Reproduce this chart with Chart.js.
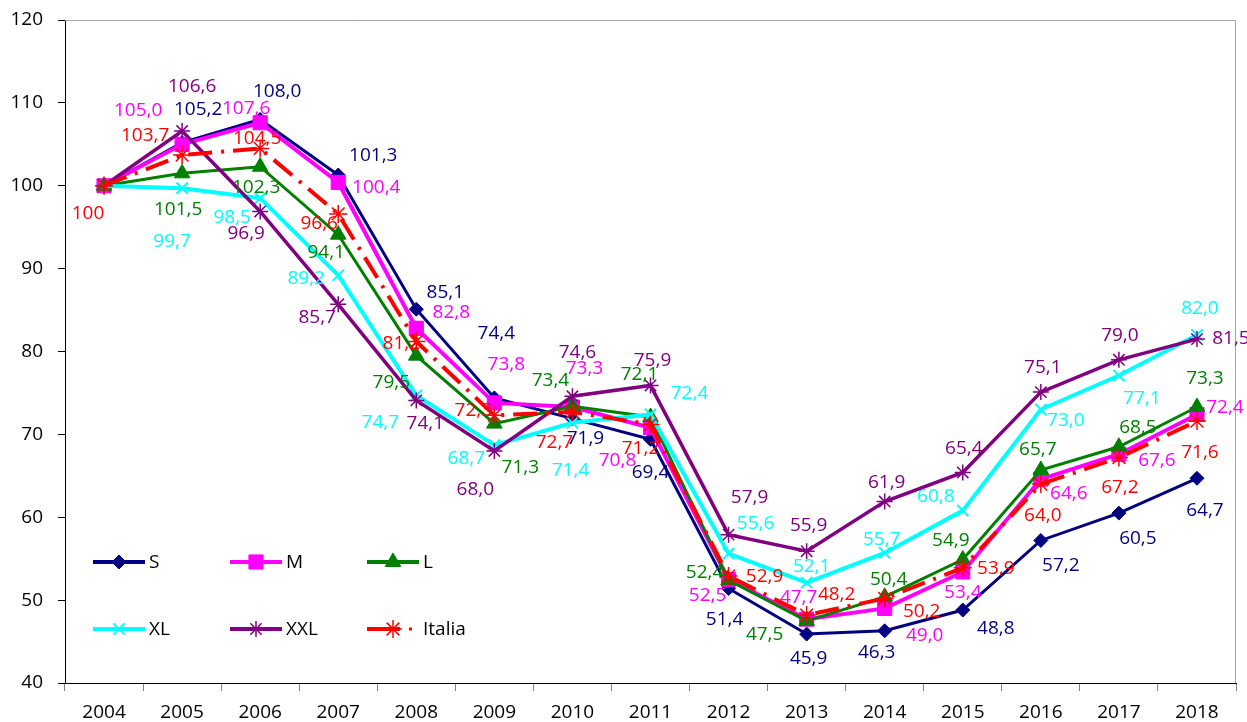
<!DOCTYPE html>
<html>
<head>
<meta charset="utf-8">
<script src="https://cdn.jsdelivr.net/npm/chart.js@4.4.1/dist/chart.umd.min.js"></script>
<style>
html,body{margin:0;padding:0;background:#fff;}
#wrap{width:1247px;height:722px;position:relative;}
</style>
</head>
<body>
<div id="wrap"><canvas id="c" width="1247" height="722"></canvas></div>
<script>
// ---- data ----
const years = ['2004','2005','2006','2007','2008','2009','2010','2011','2012','2013','2014','2015','2016','2017','2018'];
const seriesNames = ['S','M','L','XL','XXL','Italia'];
const valS   = [100,105.2,108.0,101.3,85.1,74.4,71.9,69.4,51.4,45.9,46.3,48.8,57.2,60.5,64.7];
const valM   = [100,105.0,107.6,100.4,82.8,73.8,73.3,70.8,52.5,47.7,49.0,53.4,64.6,67.6,72.4];
const valL   = [100,101.5,102.3,94.1,79.5,71.3,73.4,72.1,52.4,47.5,50.4,54.9,65.7,68.5,73.3];
const valXL  = [100,99.7,98.5,89.2,74.7,68.7,71.4,72.4,55.6,52.1,55.7,60.8,73.0,77.1,82.0];
const valXXL = [100,106.6,96.9,85.7,74.1,68.0,74.6,75.9,57.9,55.9,61.9,65.4,75.1,79.0,81.5];
const valIta = [100,103.7,104.5,96.6,81.2,72.3,72.7,71.2,52.9,48.2,50.2,53.9,64.0,67.2,71.6];
const yTicks = [40,50,60,70,80,90,100,110,120];

// ---- label placement (offsets from the point, in px) ----
const offS   = [null,[16,-34],[17,-29],[35,-20],[29,-18],[2,-65],[13,19],[0,32],[-4,30],[2,23],[-8,21],[33,18],[20,24],[19,24],[8,31]];
const offM   = [null,[-44,-35],[-14,-15],[38,4],[35,-17],[12,-39],[12,-39],[-33,32],[-21,15],[-8,-23],[40,26],[0,20],[28,13],[38,5],[28,-8]];
const offL   = [null,[-4,35],[-4,20],[-12,17],[-25,26],[26,43],[-22,-27],[-11,-43],[-24,-9],[-42,13],[4,-18],[-12,-20],[-3,-21],[19,-20],[8,-29]];
const offXL  = [null,[-10,52],[-28,18],[-32,2],[-36,26],[-28,12],[-2,47],[39,-22],[27,-31],[5,-17],[-3,-14],[-27,-15],[25,10],[23,22],[3,-27]];
const offXXL = [null,[10,-45],[-14,21],[-21,12],[9,22],[-19,38],[5,-45],[2,-26],[21,-38],[2,-27],[2,-20],[1,-25],[2,-26],[1,-25],[34,-1]];
const offIta = [[-16,27],[-37,-20],[-3,-11],[-19,9],[-15,1],[-21,-6],[-18,30],[-10,23],[36,0],[30,-21],[37,12],[33,0],[2,30],[1,29],[3,30]];

const FONT = "'Open Sans', 'DejaVu Sans', sans-serif";
Chart.defaults.font.family = FONT;
Chart.defaults.font.size = 19;
Chart.defaults.color = '#000';

function fmt(v, i) {
  if (i === 0) return String(Math.round(v));
  return v.toFixed(1).replace('.', ',');
}

const styles = [
  {color:'#000080', point:'rectRot', radius:7, bw:3, pbw:1, dash:[], order:6, offs:offS, data:valS},
  {color:'#FF00FF', point:'rect', radius:10, bw:4, pbw:1, dash:[], order:5, offs:offM, data:valM},
  {color:'#008000', point:'triangle', radius:9, bw:3, pbw:1, dash:[], order:4, offs:offL, data:valL},
  {color:'#00FFFF', point:'crossRot', radius:8, bw:4, pbw:2, dash:[], order:3, offs:offXL, data:valXL},
  {color:'#800080', point:'star', radius:8, bw:3.5, pbw:1.5, dash:[], order:2, offs:offXXL, data:valXXL},
  {color:'#FF0000', point:'star', radius:9, bw:4, pbw:1.5, dash:[24,9,3,9], order:1, offs:offIta, data:valIta}
];

const datasets = styles.map((s, k) => ({
  label: seriesNames[k],
  data: s.data,
  borderColor: s.color,
  backgroundColor: s.color,
  borderWidth: s.bw,
  borderDash: s.dash,
  pointStyle: s.point,
  pointRadius: s.radius,
  pointBorderWidth: s.pbw,
  pointBackgroundColor: s.color,
  pointBorderColor: s.color,
  tension: 0,
  order: s.order,
  labelOffsets: s.offs,
  labelColor: s.color
}));

const labelPlugin = {
  id: 'valueLabels',
  afterDatasetsDraw(chart) {
    const ctx = chart.ctx;
    ctx.save();
    ctx.font = '19px ' + FONT;
    ctx.textAlign = 'center';
    ctx.textBaseline = 'middle';
    chart.data.datasets.forEach((ds, di) => {
      const meta = chart.getDatasetMeta(di);
      meta.data.forEach((pt, i) => {
        const off = ds.labelOffsets[i];
        if (!off) return;
        ctx.fillStyle = ds.labelColor;
        ctx.fillText(fmt(ds.data[i], i), pt.x + off[0], pt.y + off[1] + 1);
      });
    });
    ctx.restore();
  }
};

const framePlugin = {
  id: 'frame',
  beforeDatasetsDraw(chart) {
    const {ctx, chartArea: a} = chart;
    ctx.save();
    ctx.strokeStyle = '#a6a6a6';
    ctx.lineWidth = 1;
    ctx.beginPath();
    ctx.moveTo(a.left, a.top + 0.5);
    ctx.lineTo(a.right - 0.5, a.top + 0.5);
    ctx.lineTo(a.right - 0.5, a.bottom);
    ctx.stroke();
    ctx.restore();
  }
};

const legendPlugin = {
  id: 'customLegend',
  afterDraw(chart) {
    const ctx = chart.ctx;
    const cols = [93, 230, 367];
    const rows = [562, 629];
    ctx.save();
    chart.data.datasets.forEach((ds, k) => {
      const x0 = cols[k % 3], y = rows[Math.floor(k / 3)];
      const st = styles[k];
      ctx.strokeStyle = st.color;
      ctx.fillStyle = st.color;
      ctx.lineWidth = 4;
      ctx.setLineDash([]);
      ctx.beginPath();
      if (k === 5) {
        ctx.moveTo(x0, y); ctx.lineTo(x0 + 33, y); ctx.stroke();
        ctx.fillRect(x0 + 42, y - 1.5, 3, 3);
      } else {
        ctx.moveTo(x0, y); ctx.lineTo(x0 + 52, y); ctx.stroke();
      }
      ctx.lineWidth = st.pbw;
      Chart.helpers.drawPoint(ctx, {pointStyle: st.point, radius: st.radius, borderWidth: st.pbw, rotation: 0}, x0 + 26, y);
      ctx.fillStyle = '#000';
      ctx.font = '19px ' + FONT;
      ctx.textAlign = 'left';
      ctx.textBaseline = 'middle';
      ctx.fillText(ds.label, x0 + 56, y + 1);
    });
    ctx.restore();
  }
};

new Chart(document.getElementById('c'), {
  type: 'line',
  data: { labels: years, datasets },
  plugins: [framePlugin, labelPlugin, legendPlugin],
  options: {
    responsive: false,
    animation: false,
    devicePixelRatio: 1,
    layout: { padding: { top: 20, right: 4, left: 0, bottom: 0 } },
    plugins: { legend: { display: false }, tooltip: { enabled: false } },
    scales: {
      x: {
        offset: true,
        grid: { offset: true, drawOnChartArea: false, drawTicks: true, tickLength: 8, color: '#808080' },
        border: { color: '#000', width: 1 },
        ticks: { padding: 10, color: '#000', font: { size: 19 }, maxRotation: 0 },
        afterFit(scale) { scale.height = 39; scale.paddingLeft = 0; scale.paddingRight = 0; }
      },
      y: {
        min: 40, max: 120,
        afterBuildTicks(scale) { scale.ticks = yTicks.map(v => ({ value: v })); },
        grid: { drawOnChartArea: false, drawTicks: true, tickLength: 7, color: '#000' },
        border: { color: '#000', width: 1 },
        ticks: { padding: 15, color: '#000', font: { size: 19 } },
        afterFit(scale) { scale.width = 65; scale.paddingTop = 0; scale.paddingBottom = 0; }
      }
    }
  }
});
</script>
</body>
</html>
